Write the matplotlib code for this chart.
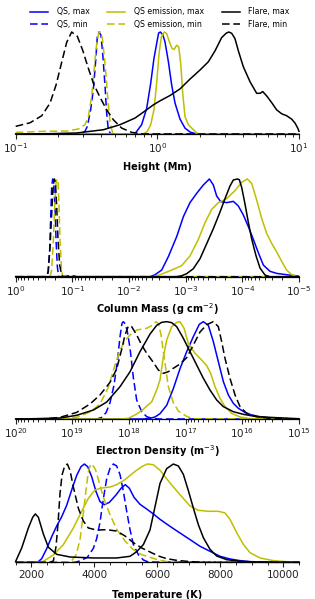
import numpy as np
import matplotlib
matplotlib.use('Agg')
import matplotlib.pyplot as plt
from matplotlib.ticker import LogLocator, MultipleLocator, NullFormatter

# ---- data: normalised distributions (peak = 1) ----
# Height, log10(Mm)
h_qs_max_x = [-1.0, -0.181, -0.151, -0.111, -0.075, -0.047, -0.024, -0.005, 0.009, 0.021, 0.038, 0.054, 0.078, 0.101, 0.125, 0.160, 0.195, 0.231, 0.278, 1.0]
h_qs_max_y = [0, 0, 0.016, 0.091, 0.253, 0.497, 0.740, 0.886, 0.990, 1.0, 0.974, 0.903, 0.708, 0.481, 0.302, 0.146, 0.058, 0.019, 0, 0]
h_qs_min_x = [-1.0, -0.546, -0.511, -0.494, -0.471, -0.452, -0.435, -0.424, -0.412, -0.398, -0.384, -0.369, -0.358, -0.346, -0.329, 1.0]
h_qs_min_y = [0, 0, 0.026, 0.075, 0.237, 0.432, 0.724, 0.951, 1.0, 0.968, 0.756, 0.464, 0.205, 0.042, 0, 0]
h_qse_max_x = [-1.0, -0.099, -0.071, -0.047, -0.024, -0.005, 0.012, 0.028, 0.049, 0.066, 0.085, 0.104, 0.118, 0.136, 0.151, 0.165, 0.179, 0.195, 0.219, 0.247, 0.278, 0.301, 1.0]
h_qse_max_y = [0, 0, 0.026, 0.091, 0.237, 0.497, 0.789, 0.951, 1.0, 0.984, 0.903, 0.838, 0.828, 0.870, 0.854, 0.692, 0.399, 0.172, 0.091, 0.052, 0.010, 0, 0]
h_qse_min_x = [-1.0, -0.805, -0.640, -0.558, -0.511, -0.487, -0.464, -0.445, -0.428, -0.414, -0.402, -0.388, -0.374, -0.360, -0.346, -0.332, -0.315, -0.299, 1.0]
h_qse_min_y = [0.016, 0.026, 0.029, 0.049, 0.091, 0.172, 0.367, 0.659, 0.886, 0.990, 1.0, 0.935, 0.756, 0.529, 0.286, 0.091, 0.010, 0, 0]
h_fl_max_x = [-1.0, -0.758, -0.569, -0.381, -0.264, -0.158, -0.099, -0.028, 0.019, 0.089, 0.160, 0.231, 0.301, 0.360, 0.407, 0.454, 0.485, 0.504, 0.525, 0.548, 0.572, 0.607, 0.654, 0.701, 0.725, 0.744, 0.772, 0.807, 0.842, 0.878, 0.913, 0.948, 0.972, 0.991, 1.0]
h_fl_max_y = [0, 0.003, 0.010, 0.042, 0.091, 0.156, 0.214, 0.286, 0.325, 0.377, 0.442, 0.539, 0.627, 0.708, 0.815, 0.945, 0.987, 1.0, 0.987, 0.935, 0.815, 0.659, 0.513, 0.399, 0.399, 0.416, 0.373, 0.308, 0.237, 0.198, 0.179, 0.146, 0.107, 0.058, 0.026]
h_fl_min_x = [-1.0, -0.899, -0.816, -0.758, -0.715, -0.675, -0.640, -0.605, -0.565, -0.527, -0.487, -0.447, -0.405, -0.358, -0.311, -0.252, -0.181, -0.099, 1.0]
h_fl_min_y = [0.075, 0.110, 0.179, 0.302, 0.481, 0.705, 0.899, 1.0, 0.958, 0.821, 0.643, 0.481, 0.361, 0.237, 0.140, 0.058, 0.016, 0, 0]

# Column mass, log10(g cm^-2)
cm_qs_max_x = [0, -2.371, -2.459, -2.576, -2.694, -2.841, -2.959, -3.076, -3.194, -3.312, -3.418, -3.488, -3.547, -3.618, -3.724, -3.841, -3.929, -4.018, -4.106, -4.194, -4.282, -4.371, -4.488, -4.606, -4.782, -4.988, -5.0]
cm_qs_max_y = [0, 0, 0.020, 0.068, 0.205, 0.410, 0.614, 0.758, 0.853, 0.939, 1.0, 0.939, 0.826, 0.768, 0.758, 0.771, 0.724, 0.631, 0.512, 0.382, 0.246, 0.119, 0.055, 0.034, 0.020, 0.007, 0]
cm_qs_min_x = [0, -0.547, -0.576, -0.600, -0.618, -0.635, -0.653, -0.671, -0.694, -0.712, -0.735, -0.759, -5.0]
cm_qs_min_y = [0, 0, 0.051, 0.273, 0.614, 0.922, 1.0, 0.956, 0.717, 0.375, 0.102, 0, 0]
cm_qse_max_x = [0, -2.429, -2.547, -2.724, -2.929, -3.076, -3.224, -3.341, -3.459, -3.576, -3.724, -3.871, -3.988, -4.088, -4.165, -4.253, -4.341, -4.429, -4.518, -4.606, -4.694, -4.782, -4.871, -4.959, -5.0]
cm_qse_max_y = [0, 0, 0.020, 0.061, 0.113, 0.212, 0.382, 0.553, 0.689, 0.758, 0.799, 0.881, 0.966, 1.0, 0.955, 0.785, 0.597, 0.444, 0.341, 0.253, 0.157, 0.068, 0.020, 0, 0]
cm_qse_min_x = [0, -0.606, -0.635, -0.665, -0.688, -0.712, -0.729, -0.747, -0.765, -0.782, -0.806, -0.829, -5.0]
cm_qse_min_y = [0, 0, 0.068, 0.375, 0.717, 0.956, 1.0, 0.973, 0.717, 0.375, 0.102, 0, 0]
cm_fl_max_x = [0, -2.841, -2.929, -3.018, -3.135, -3.253, -3.371, -3.488, -3.606, -3.694, -3.782, -3.841, -3.912, -3.947, -3.988, -4.047, -4.106, -4.165, -4.241, -4.312, -4.400, -4.488, -5.0]
cm_fl_max_y = [0, 0, 0.010, 0.031, 0.082, 0.184, 0.338, 0.491, 0.662, 0.799, 0.928, 0.990, 1.0, 0.993, 0.915, 0.744, 0.556, 0.386, 0.215, 0.089, 0.017, 0, 0]
cm_fl_min_x = [0, -0.547, -0.571, -0.606, -0.635, -0.659, -0.682, -0.700, -0.724, -0.747, -0.776, -0.812, -0.841, -0.929, -1.018, -1.076, -5.0]
cm_fl_min_y = [0, 0, 0.051, 0.307, 0.648, 0.922, 1.0, 0.973, 0.717, 0.375, 0.119, 0.017, 0, 0.008, 0.008, 0, 0]

# Electron density, log10(m^-3)
ne_qs_max_x = [20, 17.747, 17.629, 17.541, 17.453, 17.335, 17.218, 17.100, 16.982, 16.865, 16.759, 16.688, 16.600, 16.512, 16.424, 16.335, 16.247, 16.159, 16.071, 15.953, 15.835, 15.688, 15.453, 15.0]
ne_qs_max_y = [0, 0, 0.007, 0.021, 0.055, 0.141, 0.312, 0.517, 0.692, 0.846, 0.973, 1.0, 0.962, 0.795, 0.590, 0.384, 0.247, 0.161, 0.110, 0.068, 0.041, 0.024, 0.007, 0]
ne_qs_min_x = [20, 18.571, 18.482, 18.406, 18.335, 18.265, 18.206, 18.159, 18.124, 18.100, 18.065, 18.029, 17.982, 17.924, 17.865, 17.776, 17.688, 17.571, 17.453, 15.0]
ne_qs_min_y = [0, 0, 0.017, 0.065, 0.168, 0.349, 0.589, 0.846, 0.983, 1.0, 0.976, 0.897, 0.726, 0.428, 0.195, 0.075, 0.024, 0.003, 0, 0]
ne_qse_max_x = [20, 18.159, 18.012, 17.865, 17.747, 17.688, 17.600, 17.512, 17.453, 17.394, 17.335, 17.247, 17.159, 17.100, 17.029, 16.953, 16.835, 16.718, 16.629, 16.559, 16.482, 16.394, 16.306, 16.188, 16.041, 15.865, 15.0]
ne_qse_max_y = [0, 0, 0.007, 0.051, 0.099, 0.133, 0.175, 0.298, 0.401, 0.640, 0.812, 0.949, 0.993, 1.0, 0.932, 0.777, 0.675, 0.606, 0.548, 0.469, 0.332, 0.212, 0.127, 0.058, 0.021, 0.003, 0]
ne_qse_min_x = [20, 19.394, 19.100, 18.924, 18.688, 18.512, 18.365, 18.247, 18.159, 18.071, 17.982, 17.865, 17.688, 17.571, 17.524, 17.476, 17.435, 17.365, 17.306, 17.218, 17.129, 16.982, 16.865, 15.0]
ne_qse_min_y = [0, 0, 0.007, 0.017, 0.072, 0.154, 0.325, 0.555, 0.709, 0.805, 0.863, 0.914, 0.932, 0.969, 1.0, 0.976, 0.863, 0.572, 0.332, 0.168, 0.082, 0.027, 0.003, 0]
ne_fl_max_x = [20, 19.688, 19.218, 18.924, 18.629, 18.394, 18.159, 17.982, 17.806, 17.629, 17.512, 17.424, 17.335, 17.247, 17.159, 17.041, 16.924, 16.806, 16.688, 16.571, 16.453, 16.335, 16.159, 15.982, 15.747, 15.276, 15.0]
ne_fl_max_y = [0, 0.003, 0.010, 0.038, 0.092, 0.174, 0.332, 0.486, 0.692, 0.873, 0.962, 0.993, 1.0, 0.990, 0.949, 0.829, 0.692, 0.555, 0.418, 0.298, 0.195, 0.127, 0.075, 0.048, 0.024, 0.010, 0.003]
ne_fl_min_x = [20, 19.688, 19.453, 19.218, 18.924, 18.688, 18.512, 18.335, 18.218, 18.129, 18.071, 18.012, 17.953, 17.865, 17.776, 17.688, 17.571, 17.482, 17.394, 17.306, 17.218, 17.100, 16.982, 16.865, 16.747, 16.629, 16.512, 16.424, 16.365, 16.306, 16.218, 16.129, 16.041, 15.924, 15.747, 15.512, 15.0]
ne_fl_min_y = [0, 0, 0.003, 0.017, 0.068, 0.154, 0.247, 0.377, 0.514, 0.716, 0.863, 0.955, 0.949, 0.863, 0.760, 0.675, 0.582, 0.503, 0.469, 0.486, 0.521, 0.565, 0.630, 0.760, 0.894, 0.969, 1.0, 0.949, 0.795, 0.623, 0.418, 0.247, 0.127, 0.058, 0.024, 0.007, 0]

# Temperature, K
t_qs_max_x = [1500, 2061, 2220, 2326, 2485, 2644, 2802, 2961, 3120, 3279, 3438, 3575, 3681, 3787, 3914, 4052, 4179, 4316, 4475, 4687, 4846, 4983, 5111, 5259, 5449, 5661, 5873, 6085, 6402, 6720, 7038, 7355, 7673, 7991, 8308, 8626, 8944, 9473, 10500]
t_qs_max_y = [0, 0, 0.007, 0.037, 0.139, 0.261, 0.369, 0.464, 0.580, 0.736, 0.885, 0.973, 1.0, 0.973, 0.871, 0.719, 0.617, 0.586, 0.610, 0.685, 0.753, 0.790, 0.753, 0.661, 0.590, 0.542, 0.492, 0.437, 0.366, 0.298, 0.231, 0.163, 0.112, 0.061, 0.034, 0.017, 0.007, 0, 0]
t_qs_min_x = [1500, 3385, 3543, 3776, 3967, 4073, 4179, 4285, 4391, 4496, 4602, 4708, 4814, 4920, 5026, 5132, 5238, 5396, 5555, 5714, 10500]
t_qs_min_y = [0, 0, 0.014, 0.051, 0.142, 0.241, 0.410, 0.647, 0.851, 0.956, 1.0, 0.980, 0.892, 0.722, 0.519, 0.332, 0.180, 0.078, 0.024, 0.003, 0]
t_qse_max_x = [1500, 2167, 2379, 2696, 3014, 3332, 3596, 3808, 4020, 4232, 4496, 4708, 4973, 5238, 5502, 5682, 5873, 6085, 6402, 6720, 7038, 7302, 7620, 7938, 8149, 8308, 8520, 8732, 8944, 9261, 9685, 10214, 10500]
t_qse_max_y = [0, 0, 0.010, 0.075, 0.180, 0.349, 0.519, 0.651, 0.736, 0.756, 0.766, 0.790, 0.841, 0.912, 0.973, 1.0, 0.993, 0.936, 0.807, 0.688, 0.573, 0.529, 0.519, 0.519, 0.502, 0.437, 0.302, 0.183, 0.098, 0.044, 0.017, 0.003, 0]
t_qse_min_x = [1500, 3120, 3279, 3417, 3543, 3649, 3734, 3808, 3882, 3946, 4031, 4136, 4285, 4496, 4708, 4973, 5238, 5502, 5767, 6032, 6296, 6614, 10500]
t_qse_min_y = [0, 0, 0.017, 0.075, 0.227, 0.498, 0.735, 0.922, 1.0, 0.990, 0.946, 0.831, 0.661, 0.485, 0.336, 0.217, 0.129, 0.078, 0.051, 0.024, 0.007, 0, 0]
t_fl_max_x = [1500, 1691, 1902, 2040, 2125, 2220, 2379, 2538, 2802, 3226, 3967, 4708, 5132, 5343, 5555, 5767, 5926, 6085, 6296, 6508, 6667, 6826, 6985, 7143, 7302, 7461, 7673, 7885, 8202, 8626, 9155, 10500]
t_fl_max_y = [0.010, 0.146, 0.349, 0.458, 0.492, 0.458, 0.288, 0.153, 0.081, 0.054, 0.044, 0.044, 0.061, 0.108, 0.180, 0.329, 0.566, 0.803, 0.953, 1.0, 0.980, 0.895, 0.729, 0.553, 0.383, 0.251, 0.132, 0.064, 0.027, 0.010, 0.003, 0]
t_fl_min_x = [1500, 2591, 2696, 2781, 2845, 2908, 2972, 3056, 3141, 3226, 3332, 3491, 3649, 3808, 4073, 4391, 4708, 4973, 5238, 5502, 5767, 6032, 6296, 6614, 7038, 7567, 10500]
t_fl_min_y = [0, 0, 0.014, 0.159, 0.397, 0.702, 0.888, 0.980, 1.0, 0.935, 0.766, 0.549, 0.420, 0.349, 0.328, 0.332, 0.318, 0.268, 0.200, 0.146, 0.105, 0.064, 0.037, 0.020, 0.007, 0, 0]

labels = ['QS, max', 'QS, min', 'QS emission, max', 'QS emission, min', 'Flare, max', 'Flare, min']
colors = ['#0000ff', '#0000ff', '#bfbf00', '#bfbf00', 'k', 'k']
styles = ['-', '--', '-', '--', '-', '--']

xlabels = ['Height (Mm)', 'Column Mass (g cm$^{-2}$)', 'Electron Density (m$^{-3}$)', 'Temperature (K)']

panels = [
    ([(h_qs_max_x, h_qs_max_y), (h_qs_min_x, h_qs_min_y), (h_qse_max_x, h_qse_max_y),
      (h_qse_min_x, h_qse_min_y), (h_fl_max_x, h_fl_max_y), (h_fl_min_x, h_fl_min_y)], True, (0.1, 10)),
    ([(cm_qs_max_x, cm_qs_max_y), (cm_qs_min_x, cm_qs_min_y), (cm_qse_max_x, cm_qse_max_y),
      (cm_qse_min_x, cm_qse_min_y), (cm_fl_max_x, cm_fl_max_y), (cm_fl_min_x, cm_fl_min_y)], True, (1, 1e-5)),
    ([(ne_qs_max_x, ne_qs_max_y), (ne_qs_min_x, ne_qs_min_y), (ne_qse_max_x, ne_qse_max_y),
      (ne_qse_min_x, ne_qse_min_y), (ne_fl_max_x, ne_fl_max_y), (ne_fl_min_x, ne_fl_min_y)], True, (1e20, 1e15)),
    ([(t_qs_max_x, t_qs_max_y), (t_qs_min_x, t_qs_min_y), (t_qse_max_x, t_qse_max_y),
      (t_qse_min_x, t_qse_min_y), (t_fl_max_x, t_fl_max_y), (t_fl_min_x, t_fl_min_y)], False, (1500, 10500)),
]

# axes boxes in pixels: (bottom, height) of a 599 px tall figure
W, H = 315, 599
boxes = [(465, 107.1), (322.3, 102.6), (180, 102.2), (36.7, 103.2)]

fig = plt.figure(figsize=(W / 100, H / 100), dpi=100)

handles = []
for i, (curves, is_log, lims) in enumerate(panels):
    b, h = boxes[i]
    ax = fig.add_axes([15.7 / W, b / H, 283.3 / W, h / H])
    for j, (xs, ys) in enumerate(curves):
        xs = np.array(xs, dtype=float)
        if is_log:
            xs = 10.0 ** xs
        ln, = ax.plot(xs, ys, color=colors[j], ls=styles[j], lw=1.1,
                      dashes=(5, 2.4) if styles[j] == '--' else (None, None),
                      label=labels[j], clip_on=False)
        if i == 0:
            handles.append(ln)
    if is_log:
        ax.set_xscale('log')
        ax.xaxis.set_major_locator(LogLocator(base=10, numticks=10))
        ax.xaxis.set_minor_locator(LogLocator(base=10, subs=np.arange(2, 10), numticks=20))
        ax.xaxis.set_minor_formatter(NullFormatter())
    else:
        ax.xaxis.set_major_locator(MultipleLocator(2000))
        ax.xaxis.set_minor_locator(MultipleLocator(500))
    ax.set_xlim(*lims)
    ax.set_ylim(0, 1.05)
    ax.set_yticks([])
    for s in ['top', 'left', 'right']:
        ax.spines[s].set_visible(False)
    ax.spines['bottom'].set_linewidth(0.9)
    ax.tick_params(axis='x', which='major', direction='out', length=3.5, width=0.8,
                   labelsize=7.5, pad=2, colors='#222222')
    ax.tick_params(axis='x', which='minor', direction='out', length=2, width=0.6)
    ax.set_xlabel(xlabels[i], fontsize=7, fontweight='bold', va='center')
    ax.xaxis.set_label_coords(0.5, -32.5 / h)
    ax.patch.set_visible(False)

fig.legend(handles=handles, loc='center', bbox_to_anchor=(0.508, 1 - 18 / H), ncol=3,
           frameon=False, fontsize=5.6, handlelength=2.3, handletextpad=1.1,
           columnspacing=2.3, labelspacing=0.45, borderpad=0, borderaxespad=0)

fig.savefig('out.png', dpi=100)
